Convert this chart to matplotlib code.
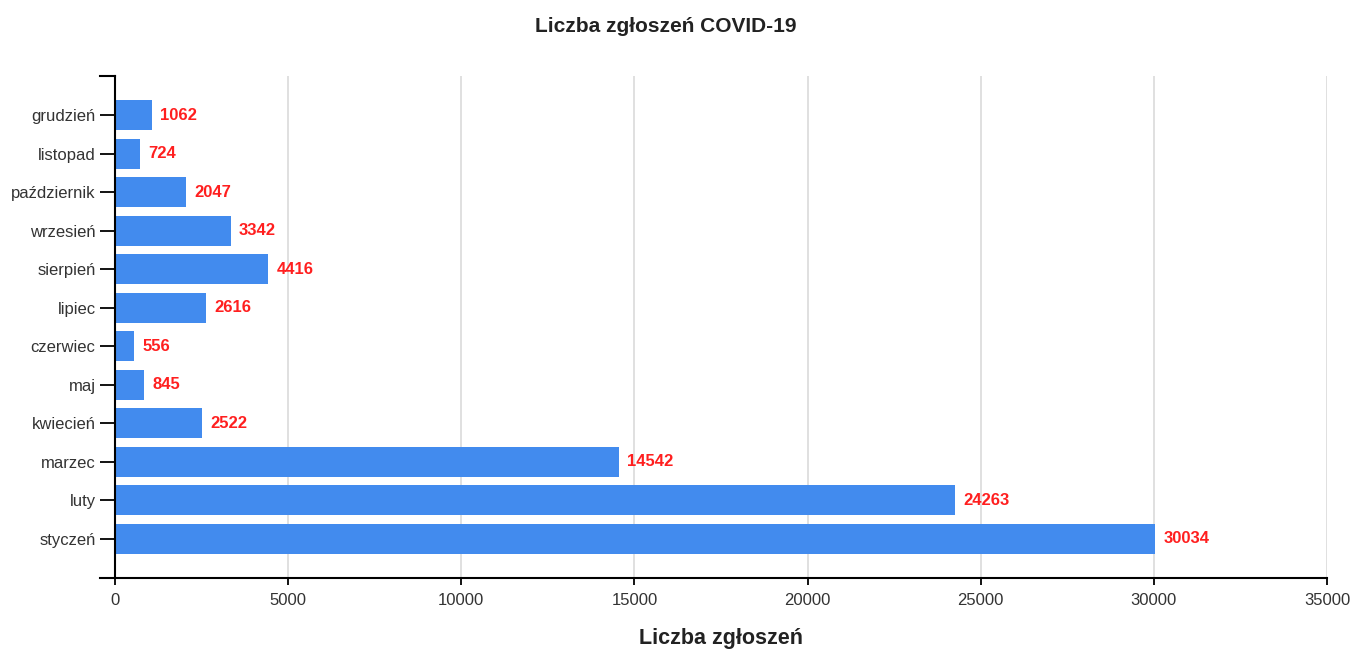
import matplotlib
matplotlib.use("Agg")
import matplotlib.pyplot as plt
from matplotlib.lines import Line2D

months = ["styczeń", "luty", "marzec", "kwiecień", "maj", "czerwiec",
          "lipiec", "sierpień", "wrzesień", "październik", "listopad", "grudzień"]
counts = [30034, 24263, 14542, 2522, 845, 556, 2616, 4416, 3342, 2047, 724, 1062]
xticks = [0, 5000, 10000, 15000, 20000, 25000, 30000, 35000]

plt.rcParams['font.family'] = ['Liberation Sans', 'DejaVu Sans']

W, H = 1351, 649
fig = plt.figure(figsize=(W / 100, H / 100), dpi=100)
L, R, T, B = 115, 1327, 76, 578
ax = fig.add_axes([L / W, (H - B) / H, (R - L) / W, (B - T) / H])

pos = list(range(len(months)))
ax.barh(pos, counts, height=0.78, color="#428BEE", zorder=2)
for p, v in zip(pos, counts):
    ax.annotate(str(v), (v, p), xytext=(6, 0), textcoords="offset points",
                va="center", ha="left", color="#ff1f1f", fontsize=12,
                fontweight="bold", zorder=3)

ax.set_xlim(0, 35000)
ax.set_ylim(-1.02, 12.02)
ax.set_xticks(xticks)
ax.set_xticklabels([str(t) for t in xticks])
ax.set_yticks(pos)
ax.set_yticklabels(months)
ax.tick_params(axis="y", length=11, width=1.3, color="black", labelsize=12,
               labelcolor="#333333", pad=3)
ax.tick_params(axis="x", length=5, width=1.3, color="black", labelsize=12,
               labelcolor="#333333", pad=6)
ax.grid(axis="x", color="#dddddd", linewidth=1.3, zorder=0)
ax.set_axisbelow(True)
for s in ["top", "right", "bottom"]:
    ax.spines[s].set_visible(False)
ax.spines["left"].set_linewidth(1.5)

# bottom axis line extending left to the y outer-tick, and top outer tick
ax_w_px = R - L
ext = 15 / ax_w_px
ax.add_line(Line2D([-ext, 1.0], [0, 0], transform=ax.transAxes, color="black",
                   linewidth=1.5, clip_on=False, zorder=4))
ax.add_line(Line2D([-ext, 0], [1, 1], transform=ax.transAxes, color="black",
                   linewidth=1.5, clip_on=False, zorder=4))

ax.set_xlabel("Liczba zgłoszeń", fontsize=15.5, fontweight="bold",
              color="#222222", labelpad=14)
fig.text(666 / W, 1 - 27 / H, "Liczba zgłoszeń COVID-19", ha="center",
         va="center", fontsize=15, fontweight="bold", color="#222222")

fig.savefig("out.png", dpi=100)
